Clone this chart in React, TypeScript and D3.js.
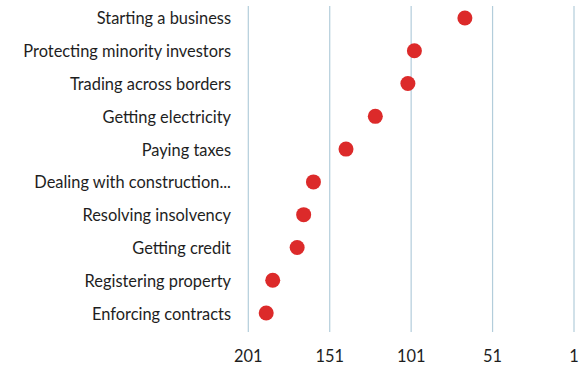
import React from "react";
import * as d3 from "d3";

const categories = [
  "Starting a business",
  "Protecting minority investors",
  "Trading across borders",
  "Getting electricity",
  "Paying taxes",
  "Dealing with construction...",
  "Resolving insolvency",
  "Getting credit",
  "Registering property",
  "Enforcing contracts",
];
const ranks = [68, 99, 103, 123, 141, 161, 167, 171, 186, 190];
const tickValues = [201, 151, 101, 51, 1];

const W = 582;
const H = 365;

export default function App() {
  const x = d3.scaleLinear().domain([201, 1]).range([248.3, 574]);
  const y = d3.scaleBand<string>().domain(categories).range([1.6, 329.4]);
  const font = "Lato, 'Noto Sans', sans-serif";
  return (
    <svg
      width={W}
      height={H}
      style={{ position: "absolute", left: 0, top: 0, display: "block" }}
    >
      <rect width={W} height={H} fill="#ffffff" />
      {tickValues.map((t) => (
        <g key={t}>
          <line
            x1={x(t)}
            x2={x(t)}
            y1={6}
            y2={332}
            stroke="#b3cddb"
            strokeWidth={1.2}
          />
          <text
            x={x(t)}
            y={355}
            textAnchor="middle"
            dominantBaseline="central"
            fontFamily={font}
            fontSize={16.4}
            fill="#1e1e1e"
          >
            {t}
          </text>
        </g>
      ))}
      {categories.map((c) => (
        <text
          key={c}
          x={231}
          y={(y(c) ?? 0) + y.bandwidth() / 2}
          textAnchor="end"
          dominantBaseline="central"
          fontFamily={font}
          fontSize={16.4}
          fill="#1e1e1e"
        >
          {c}
        </text>
      ))}
      {categories.map((c, i) => (
        <circle
          key={c}
          cx={x(ranks[i])}
          cy={(y(c) ?? 0) + y.bandwidth() / 2}
          r={7.5}
          fill="#dc2a2a"
        />
      ))}
    </svg>
  );
}
